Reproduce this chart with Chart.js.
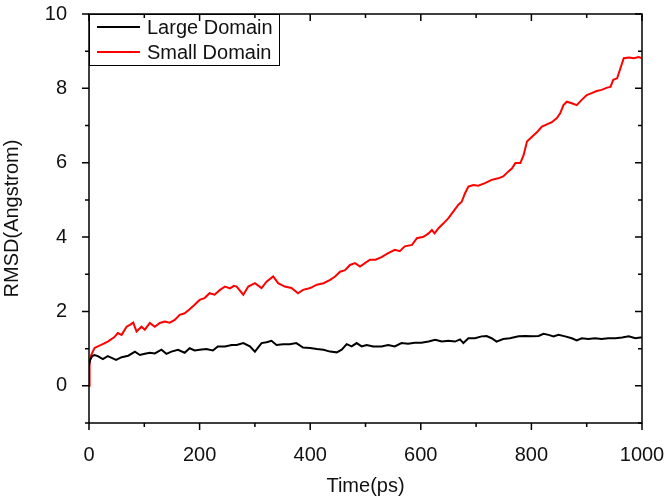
<!DOCTYPE html>
<html><head><meta charset="utf-8">
<script src="https://cdn.jsdelivr.net/npm/chart.js@4/dist/chart.umd.min.js"></script>
<style>html,body{margin:0;padding:0;background:#fff}#wrap{width:672px;height:502px}</style>
</head><body><div id="wrap"><canvas id="c" width="672" height="502"></canvas></div>
<script>
const seriesNames = ['Large Domain', 'Small Domain'];
const largeTime = [0,2,6,10,16,25,34,43,49,59,71,83,92,101,110,119,131,140,149,161,173,182,191,200,212,224,233,246,258,267,279,291,300,312,321,330,339,351,363,375,387,400,412,424,436,448,457,466,475,484,493,502,514,529,541,553,565,577,589,601,614,626,638,650,662,671,677,686,698,710,719,728,737,749,761,777,789,801,813,822,831,840,849,861,873,882,891,903,915,927,939,952,964,976,988,997,1000];
const largeRmsd = [0.55,0.70,0.80,0.83,0.80,0.72,0.80,0.74,0.70,0.77,0.81,0.92,0.83,0.86,0.89,0.87,0.97,0.86,0.92,0.97,0.89,1.01,0.95,0.97,0.99,0.95,1.06,1.06,1.10,1.10,1.15,1.06,0.92,1.15,1.17,1.21,1.10,1.12,1.12,1.15,1.03,1.02,0.99,0.97,0.92,0.90,0.97,1.12,1.06,1.15,1.06,1.10,1.06,1.06,1.10,1.06,1.15,1.13,1.16,1.16,1.19,1.24,1.19,1.21,1.19,1.25,1.15,1.28,1.28,1.33,1.34,1.28,1.19,1.26,1.28,1.33,1.34,1.33,1.34,1.40,1.37,1.33,1.37,1.33,1.28,1.22,1.28,1.26,1.28,1.26,1.28,1.28,1.30,1.33,1.28,1.30,1.30];
const smallTime = [0,1,4,10,22,34,46,52,59,68,74,80,86,95,101,110,119,128,137,146,155,164,173,182,191,200,209,218,227,237,246,255,262,267,279,288,300,312,321,333,342,354,366,378,387,400,412,424,436,445,454,463,472,481,490,499,508,518,529,541,553,562,571,584,593,605,614,620,625,632,641,650,659,668,674,680,686,695,704,716,728,740,749,758,765,771,780,786,792,801,810,819,828,837,846,852,858,864,873,882,891,900,909,918,927,937,943,948,955,961,967,976,985,994,1000];
const smallRmsd = [0.00,0.60,0.83,1.02,1.10,1.19,1.31,1.42,1.37,1.59,1.64,1.70,1.46,1.59,1.51,1.69,1.59,1.69,1.73,1.70,1.77,1.91,1.95,2.06,2.18,2.31,2.36,2.49,2.45,2.58,2.67,2.62,2.69,2.67,2.45,2.67,2.76,2.63,2.80,2.94,2.76,2.67,2.63,2.49,2.58,2.63,2.72,2.76,2.85,2.94,3.07,3.11,3.25,3.30,3.21,3.30,3.39,3.39,3.46,3.57,3.66,3.62,3.75,3.79,3.97,4.01,4.10,4.19,4.10,4.24,4.37,4.51,4.69,4.87,4.95,5.18,5.36,5.40,5.38,5.45,5.54,5.58,5.63,5.76,5.85,5.99,5.99,6.21,6.57,6.70,6.82,6.97,7.03,7.09,7.20,7.33,7.55,7.64,7.60,7.55,7.69,7.82,7.87,7.93,7.96,8.02,8.04,8.23,8.27,8.54,8.81,8.83,8.81,8.84,8.81];
const xTickLabels = [0, 200, 400, 600, 800, 1000];
const yTickLabels = [0, 2, 4, 6, 8, 10];
const colors = ['#000000', '#ff0000'];

const FONT = 'Liberation Sans, Arial, sans-serif';
const TXT = '#111';

function pts(t, v) { return t.map((x, i) => ({x: x, y: v[i]})); }

const frame = {
  id: 'frame',
  afterDraw(chart) {
    const ctx = chart.ctx, a = chart.chartArea;
    const xs = chart.scales.x, ys = chart.scales.y;
    ctx.save();
    ctx.strokeStyle = '#000';
    ctx.lineWidth = 1.5;
    ctx.strokeRect(a.left, a.top, a.right - a.left, a.bottom - a.top);
    ctx.beginPath();
    for (let v = 0; v <= 1000; v += 100) {
      const px = xs.getPixelForValue(v);
      const L = (v % 200 === 0) ? 7 : 4;
      ctx.moveTo(px, a.bottom); ctx.lineTo(px, a.bottom + L);
      ctx.moveTo(px, a.top); ctx.lineTo(px, a.top + L);
    }
    for (let v = -1; v <= 10; v += 1) {
      const py = ys.getPixelForValue(v);
      const L = (v % 2 === 0) ? 7 : 4;
      ctx.moveTo(a.left, py); ctx.lineTo(a.left - L, py);
      ctx.moveTo(a.right, py); ctx.lineTo(a.right - L, py);
    }
    ctx.stroke();
    // legend
    const lx = a.left, ly = a.top, lw = 190, lh = 51;
    ctx.lineWidth = 1;
    ctx.strokeRect(lx + 0.5, ly + 0.5, lw, lh);
    ctx.font = '20px ' + FONT;
    ctx.textBaseline = 'middle';
    ctx.fillStyle = TXT;
    chart.data.datasets.forEach((ds, i) => {
      const y = ly + 13 + i * 25;
      ctx.strokeStyle = ds.borderColor;
      ctx.lineWidth = 2;
      ctx.beginPath(); ctx.moveTo(lx + 8, y); ctx.lineTo(lx + 51, y); ctx.stroke();
      ctx.fillText(ds.label, lx + 58, y + 1);
    });
    ctx.restore();
  }
};

new Chart(document.getElementById('c'), {
  type: 'line',
  data: {
    datasets: [
      {label: seriesNames[0], data: pts(largeTime, largeRmsd), borderColor: colors[0], borderWidth: 2, pointRadius: 0, tension: 0, fill: false},
      {label: seriesNames[1], data: pts(smallTime, smallRmsd), borderColor: colors[1], borderWidth: 2, pointRadius: 0, tension: 0, fill: false}
    ]
  },
  options: {
    responsive: false,
    animation: false,
    devicePixelRatio: 1,
    layout: {padding: {top: 14, right: 30, left: 0, bottom: 0}},
    plugins: {legend: {display: false}, tooltip: {enabled: false}},
    scales: {
      x: {
        type: 'linear', min: 0, max: 1000,
        afterFit: s => { s.height = 79; s.paddingLeft = 0; s.paddingRight = 0; },
        grid: {display: false},
        border: {display: false},
        ticks: {stepSize: 200, padding: 12, color: TXT, font: {family: FONT, size: 20},
          callback: v => xTickLabels.includes(v) ? String(v) : ''},
        title: {display: true, text: 'Time(ps)', color: TXT, font: {family: FONT, size: 20}, padding: {top: 2, bottom: 4}}
      },
      y: {
        type: 'linear', min: -1, max: 10,
        afterFit: s => { s.width = 89; s.paddingTop = 0; s.paddingBottom = 0; },
        grid: {display: false},
        border: {display: false},
        ticks: {stepSize: 1, autoSkip: false, padding: 14, color: TXT, font: {family: FONT, size: 20},
          callback: v => yTickLabels.includes(v) ? String(v) : ''},
        title: {display: true, text: 'RMSD(Angstrom)', color: TXT, font: {family: FONT, size: 20}, padding: {top: 0, bottom: 4}}
      }
    }
  },
  plugins: [frame]
});
</script>
</body></html>
